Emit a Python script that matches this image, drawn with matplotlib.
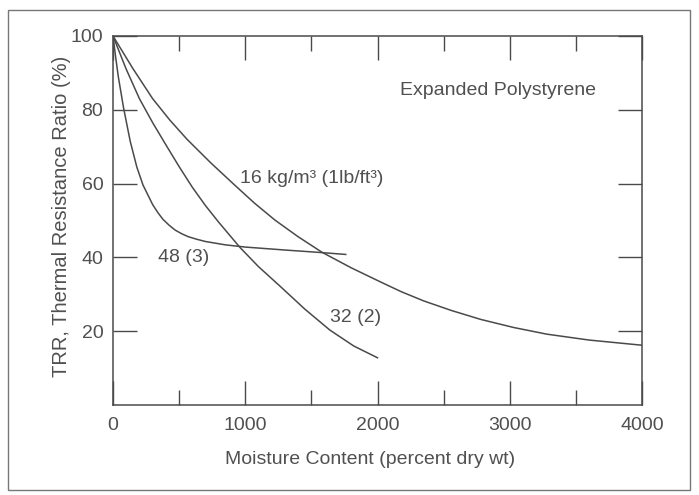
import matplotlib
matplotlib.use("Agg")
import matplotlib.pyplot as plt
from matplotlib.patches import Rectangle
from matplotlib.ticker import MultipleLocator

# curves (moisture %, TRR %)
m16 = [0, 150, 300, 430, 560, 740, 920, 1070, 1225, 1400, 1580, 1800,
       2020, 2180, 2350, 2560, 2780, 3030, 3280, 3600, 4000]
t16 = [100, 91.2, 83, 77.2, 72, 65.6, 59.6, 54.7, 50.1, 45.6, 41.4, 37.2,
       33.4, 30.7, 28.2, 25.6, 23.2, 21.0, 19.2, 17.6, 16.2]

m32 = [0, 100, 200, 300, 400, 500, 600, 700, 800, 960, 1100, 1260, 1450,
       1640, 1820, 2000]
t32 = [100, 91, 83, 76.5, 70.5, 64.6, 59, 54, 49.5, 42.7, 37.5, 32.3, 26.0,
       20.3, 16.0, 12.8]

m48 = [0, 20, 40, 80, 130, 180, 227, 300, 340, 378, 425, 470, 520, 570,
       635, 700, 850, 1000, 1300, 1580, 1760]
t48 = [100, 94.3, 89, 80.5, 71.5, 64.5, 59.6, 54.3, 52.1, 50.3, 48.7, 47.4,
       46.4, 45.6, 44.9, 44.3, 43.4, 42.8, 42.0, 41.3, 40.8]

xticks = [0, 1000, 2000, 3000, 4000]
yticks = [20, 40, 60, 80, 100]

plt.rcParams['font.family'] = ['Liberation Sans', 'DejaVu Sans']
txt = '#505050'
lc = '#4a4a4a'

fig = plt.figure(figsize=(6.99, 4.95), dpi=100)
ax = fig.add_axes([113 / 699, 1 - 405 / 495, 529 / 699, 369 / 495])

for m, t in [(m16, t16), (m32, t32), (m48, t48)]:
    ax.plot(m, t, color=lc, lw=1.1, solid_joinstyle='round')

ax.set_xlim(0, 4000)
ax.set_ylim(0, 100)
ax.set_xticks(xticks)
ax.set_xticklabels([str(v) for v in xticks])
ax.xaxis.set_minor_locator(MultipleLocator(500))
ax.set_yticks(yticks)
ax.set_yticklabels([str(v) for v in yticks])

ax.tick_params(axis='x', which='major', direction='in', top=True, length=17,
               width=1, color=lc, labelsize=14, labelcolor=txt, pad=9)
ax.tick_params(axis='x', which='minor', direction='in', top=True, length=11,
               width=1, color=lc)
ax.tick_params(axis='y', which='major', direction='in', right=True, length=17,
               width=1, color=lc, labelsize=14, labelcolor=txt, pad=7)
for s in ax.spines.values():
    s.set_color(lc)
    s.set_linewidth(1.1)

ax.set_xlabel('Moisture Content (percent dry wt)', fontsize=14, color=txt)
ax.set_ylabel('TRR, Thermal Resistance Ratio (%)', fontsize=14.5, color=txt)
ax.xaxis.set_label_coords(0.486, -0.125)
ax.yaxis.set_label_coords(-0.08, 0.51)

ax.text(2911, 85.1, 'Expanded Polystyrene', fontsize=14, color=txt,
        ha='center', va='center')
ax.text(960, 61.5, '16 kg/m³ (1lb/ft³)', fontsize=14, color=txt,
        ha='left', va='center')
ax.text(340, 40.1, '48 (3)', fontsize=14, color=txt, ha='left', va='center')
ax.text(1641, 23.6, '32 (2)', fontsize=14, color=txt, ha='left', va='center')

# outer frame of the scanned figure
fig.patches.append(Rectangle((8 / 699, 5 / 495), 682 / 699, 480 / 495,
                             transform=fig.transFigure, fill=False,
                             edgecolor='#777777', lw=1))

fig.savefig('out.png', dpi=100)
